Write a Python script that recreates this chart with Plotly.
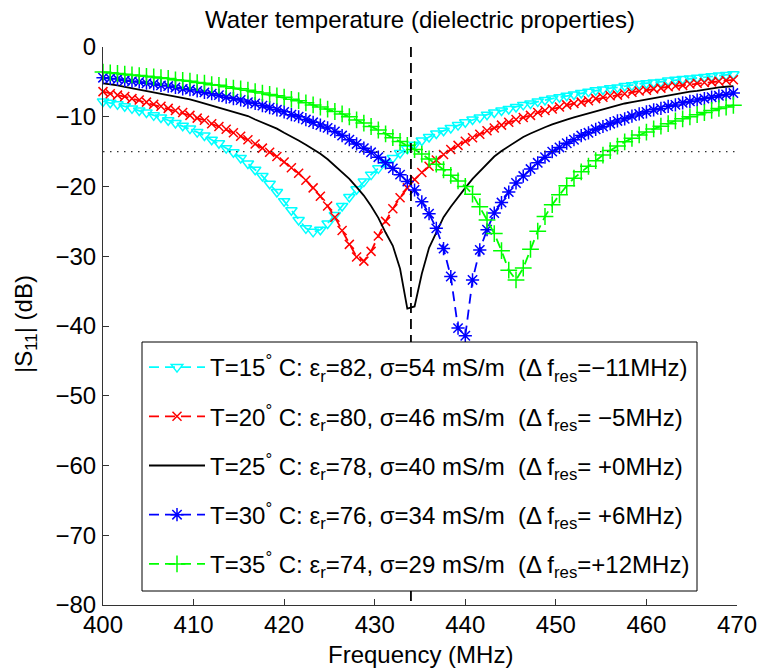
import plotly.graph_objects as go

# ---------------- data ----------------
freq_mhz = [400.0, 400.8, 401.6, 402.4, 403.2, 404.0, 404.8, 405.6, 406.4, 407.2,
            408.0, 408.8, 409.6, 410.4, 411.2, 412.0, 412.8, 413.6, 414.4, 415.2,
            416.0, 416.8, 417.6, 418.4, 419.2, 420.0, 420.8, 421.6, 422.4, 423.2,
            424.0, 424.8, 425.6, 426.4, 427.2, 428.0, 428.8, 429.6, 430.4, 431.2,
            432.0, 432.8, 433.6, 434.4, 435.2, 436.0, 436.8, 437.6, 438.4, 439.2,
            440.0, 440.8, 441.6, 442.4, 443.2, 444.0, 444.8, 445.6, 446.4, 447.2,
            448.0, 448.8, 449.6, 450.4, 451.2, 452.0, 452.8, 453.6, 454.4, 455.2,
            456.0, 456.8, 457.6, 458.4, 459.2, 460.0, 460.8, 461.6, 462.4, 463.2,
            464.0, 464.8, 465.6, 466.4, 467.2, 468.0, 468.8, 469.6]

s11_t15 = [-7.8, -8.0, -8.2, -8.5, -8.8, -9.1, -9.4, -9.8, -10.1, -10.5,
           -10.9, -11.3, -11.7, -12.2, -12.7, -13.3, -13.8, -14.5, -15.1, -15.9,
           -16.7, -17.6, -18.5, -19.6, -20.8, -22.1, -23.4, -24.8, -26.0, -26.5,
           -26.2, -25.3, -24.1, -22.8, -21.5, -20.4, -19.3, -18.3, -17.4, -16.6,
           -15.9, -15.2, -14.6, -14.0, -13.4, -12.9, -12.4, -12.0, -11.6, -11.2,
           -10.8, -10.4, -10.1, -9.7, -9.4, -9.1, -8.9, -8.6, -8.3, -8.1,
           -7.8, -7.6, -7.4, -7.2, -7.0, -6.8, -6.6, -6.4, -6.2, -6.1,
           -5.9, -5.8, -5.6, -5.5, -5.3, -5.2, -5.1, -5.0, -4.8, -4.7,
           -4.6, -4.5, -4.4, -4.3, -4.2, -4.1, -4.0, -3.9]

s11_t20 = [-6.4, -6.7, -6.9, -7.1, -7.4, -7.6, -7.9, -8.2, -8.5, -8.8,
           -9.1, -9.4, -9.8, -10.2, -10.5, -11.0, -11.4, -11.8, -12.3, -12.8,
           -13.3, -13.9, -14.5, -15.1, -15.7, -16.5, -17.3, -18.1, -19.1, -20.2,
           -21.4, -22.8, -24.4, -26.3, -28.3, -30.1, -30.7, -29.3, -27.1, -25.0,
           -23.2, -21.6, -20.2, -19.0, -18.0, -17.1, -16.2, -15.4, -14.7, -14.1,
           -13.5, -13.0, -12.5, -12.0, -11.6, -11.2, -10.8, -10.4, -10.1, -9.8,
           -9.4, -9.1, -8.9, -8.6, -8.3, -8.1, -7.9, -7.7, -7.4, -7.2,
           -7.0, -6.9, -6.7, -6.5, -6.3, -6.2, -6.0, -5.9, -5.7, -5.6,
           -5.5, -5.3, -5.2, -5.1, -5.0, -4.9, -4.8, -4.7]

s11_t25 = [-5.2, -5.3, -5.5, -5.7, -5.9, -6.0, -6.2, -6.4, -6.6, -6.8,
           -7.1, -7.3, -7.5, -7.8, -8.1, -8.3, -8.6, -8.9, -9.3, -9.6,
           -9.9, -10.4, -10.8, -11.3, -11.7, -12.3, -12.8, -13.4, -14.0, -14.6,
           -15.3, -16.1, -17.0, -17.9, -18.9, -20.1, -21.3, -22.8, -24.5, -26.6,
           -28.5, -31.8, -37.5, -37.2, -32.5, -28.8, -26.5, -24.4, -22.9, -21.5,
           -20.2, -18.9, -17.8, -16.7, -15.7, -14.9, -14.2, -13.5, -12.9, -12.4,
           -11.9, -11.5, -11.1, -10.7, -10.4, -10.1, -9.8, -9.5, -9.2, -8.9,
           -8.6, -8.4, -8.1, -7.9, -7.7, -7.5, -7.3, -7.1, -6.9, -6.7,
           -6.6, -6.4, -6.3, -6.1, -6.0, -5.8, -5.7, -5.6]

s11_t30 = [-4.4, -4.5, -4.6, -4.8, -4.9, -5.0, -5.2, -5.3, -5.5, -5.6,
           -5.8, -6.0, -6.1, -6.3, -6.5, -6.7, -6.9, -7.2, -7.4, -7.6,
           -7.9, -8.1, -8.4, -8.7, -9.0, -9.3, -9.7, -10.0, -10.4, -10.8,
           -11.2, -11.6, -12.1, -12.7, -13.3, -13.9, -14.5, -15.1, -15.8, -16.6,
           -17.4, -18.3, -19.3, -20.5, -22.2, -23.9, -26.0, -28.9, -32.9, -40.3,
           -41.4, -33.4, -29.1, -26.2, -23.8, -22.3, -20.8, -19.5, -18.5, -17.5,
           -16.6, -15.8, -15.0, -14.4, -13.8, -13.3, -12.7, -12.3, -11.8, -11.4,
           -11.0, -10.6, -10.3, -9.9, -9.6, -9.3, -9.0, -8.8, -8.5, -8.3,
           -8.0, -7.8, -7.6, -7.4, -7.2, -7.0, -6.8, -6.6]

s11_t35 = [-3.6, -3.7, -3.8, -3.9, -4.0, -4.1, -4.2, -4.3, -4.4, -4.5,
           -4.7, -4.8, -4.9, -5.1, -5.2, -5.4, -5.5, -5.7, -5.9, -6.0,
           -6.2, -6.4, -6.6, -6.8, -7.0, -7.2, -7.5, -7.7, -8.0, -8.3,
           -8.6, -8.9, -9.25, -9.6, -10.0, -10.45, -10.9, -11.4, -11.9, -12.45,
           -13.0, -13.55, -14.1, -14.7, -15.35, -16.05, -16.8, -17.6, -18.4, -19.2,
           -20.0, -21.1, -22.9, -24.8, -26.75, -29.2, -32.0, -33.4, -31.7, -29.0,
           -26.4, -24.3, -22.6, -21.2, -19.9, -18.8, -17.9, -17.1, -16.3, -15.5,
           -14.85, -14.2, -13.6, -13.1, -12.6, -12.2, -11.75, -11.35, -11.0, -10.6,
           -10.3, -10.0, -9.7, -9.4, -9.1, -8.8, -8.6, -8.35]

series_labels = [
    "T=15<sup>°</sup> C: ε<sub>r</sub>=82, σ=54 mS/m\u00a0\u00a0(Δ f<sub>res</sub>=−11MHz)",
    "T=20<sup>°</sup> C: ε<sub>r</sub>=80, σ=46 mS/m\u00a0\u00a0(Δ f<sub>res</sub>= −5MHz)",
    "T=25<sup>°</sup> C: ε<sub>r</sub>=78, σ=40 mS/m\u00a0\u00a0(Δ f<sub>res</sub>= +0MHz)",
    "T=30<sup>°</sup> C: ε<sub>r</sub>=76, σ=34 mS/m\u00a0\u00a0(Δ f<sub>res</sub>= +6MHz)",
    "T=35<sup>°</sup> C: ε<sub>r</sub>=74, σ=29 mS/m\u00a0\u00a0(Δ f<sub>res</sub>=+12MHz)",
]
series_values = [s11_t15, s11_t20, s11_t25, s11_t30, s11_t35]

ref_freq_mhz = 434
threshold_db = -15
x_ticks = [400, 410, 420, 430, 440, 450, 460, 470]
y_ticks = [0, -10, -20, -30, -40, -50, -60, -70, -80]

for vals in series_values:
    assert len(vals) == len(freq_mhz)

# ---------------- styles ----------------
series_styles = [
    dict(color="#00FFFF", symbol="triangle-down-open", size=10, dash="10px,6px", mode="lines+markers"),
    dict(color="#FF0000", symbol="x-thin-open", size=9, dash="10px,6px", mode="lines+markers"),
    dict(color="#000000", symbol="circle", size=1, dash="solid", mode="lines"),
    dict(color="#0000FF", symbol="asterisk-open", size=11, dash="10px,6px", mode="lines+markers"),
    dict(color="#00FF00", symbol="cross-thin-open", size=12, dash="10px,6px", mode="lines+markers"),
]

FONT = "Liberation Sans, Arial, Helvetica, sans-serif"
AX = "#333333"

# plot-area pixel geometry (for placing decorations in paper coordinates)
PL, PR, PT, PB = 103, 737, 47, 605
def px_x(px):
    return (px - PL) / (PR - PL)
def px_y(py):
    return (PB - py) / (PB - PT)

fig = go.Figure()

for i, (vals, label, st) in enumerate(zip(series_values, series_labels, series_styles)):
    fig.add_trace(go.Scatter(
        x=freq_mhz, y=vals, name=label, mode=st["mode"],
        legendgroup=f"g{i}",
        line=dict(color=st["color"], width=1.8, dash=st["dash"]),
        marker=dict(symbol=st["symbol"], size=st["size"], color=st["color"],
                    line=dict(color=st["color"], width=1.5)),
        cliponaxis=False,
    ))

# reference lines
fig.add_trace(go.Scatter(
    x=[ref_freq_mhz, ref_freq_mhz], y=[y_ticks[0], y_ticks[-1]], mode="lines",
    line=dict(color="black", width=1.8, dash="10px,6px"), showlegend=False, hoverinfo="skip"))
fig.add_trace(go.Scatter(
    x=[x_ticks[0], x_ticks[-1]], y=[threshold_db, threshold_db], mode="lines",
    line=dict(color="#333333", width=1.2, dash="1.5px,5.5px"), showlegend=False, hoverinfo="skip"))

fig.update_layout(
    width=757, height=669,
    margin=dict(l=PL, r=757 - PR, t=PT, b=669 - PB, autoexpand=False),
    paper_bgcolor="white", plot_bgcolor="white",
    font=dict(family=FONT, size=24, color="black"),
    title=dict(text="Water temperature (dielectric properties)", x=0.5, xref="paper",
               xanchor="center", y=1 - 19.5 / 669, yref="container", yanchor="middle",
               font=dict(family=FONT, size=24, color="black")),
    xaxis=dict(range=[400, 470], tickvals=x_ticks, ticks="inside", ticklen=6,
               tickcolor=AX, tickwidth=1, showline=True, linecolor=AX, linewidth=1,
               showgrid=False, zeroline=False, ticklabelstandoff=-2,
               ticklabeloverflow="allow", automargin=False,
               tickfont=dict(family=FONT, size=24, color="black")),
    yaxis=dict(range=[-80, 0], tickvals=y_ticks, ticks="inside", ticklen=6,
               tickcolor=AX, tickwidth=1, showline=True, linecolor=AX, linewidth=1,
               showgrid=False, zeroline=False, ticklabelstandoff=1,
               ticklabeloverflow="allow", automargin=False,
               tickfont=dict(family=FONT, size=24, color="black")),
    legend=dict(x=px_x(144), y=px_y(345), xanchor="left", yanchor="top",
                bgcolor="rgba(0,0,0,0)", borderwidth=0,
                font=dict(family=FONT, size=24, color="black"),
                itemwidth=56, traceorder="grouped", tracegroupgap=15),
    shapes=[
        dict(type="rect", xref="paper", yref="paper",
             x0=px_x(142), x1=px_x(697), y0=px_y(591), y1=px_y(342),
             fillcolor="white", line=dict(color="black", width=1), layer="above"),
    ],
    annotations=[
        dict(text="Frequency (MHz)", x=0.5, y=px_y(654), xref="paper", yref="paper",
             xanchor="center", yanchor="middle", showarrow=False,
             font=dict(family=FONT, size=24, color="black")),
        dict(text="|S<sub>11</sub>| (dB)", x=px_x(25), y=px_y(324),
             xref="paper", yref="paper", xanchor="center", yanchor="middle",
             textangle=-90, showarrow=False,
             font=dict(family=FONT, size=24, color="black")),
    ],
)

fig.write_html("out.html")
